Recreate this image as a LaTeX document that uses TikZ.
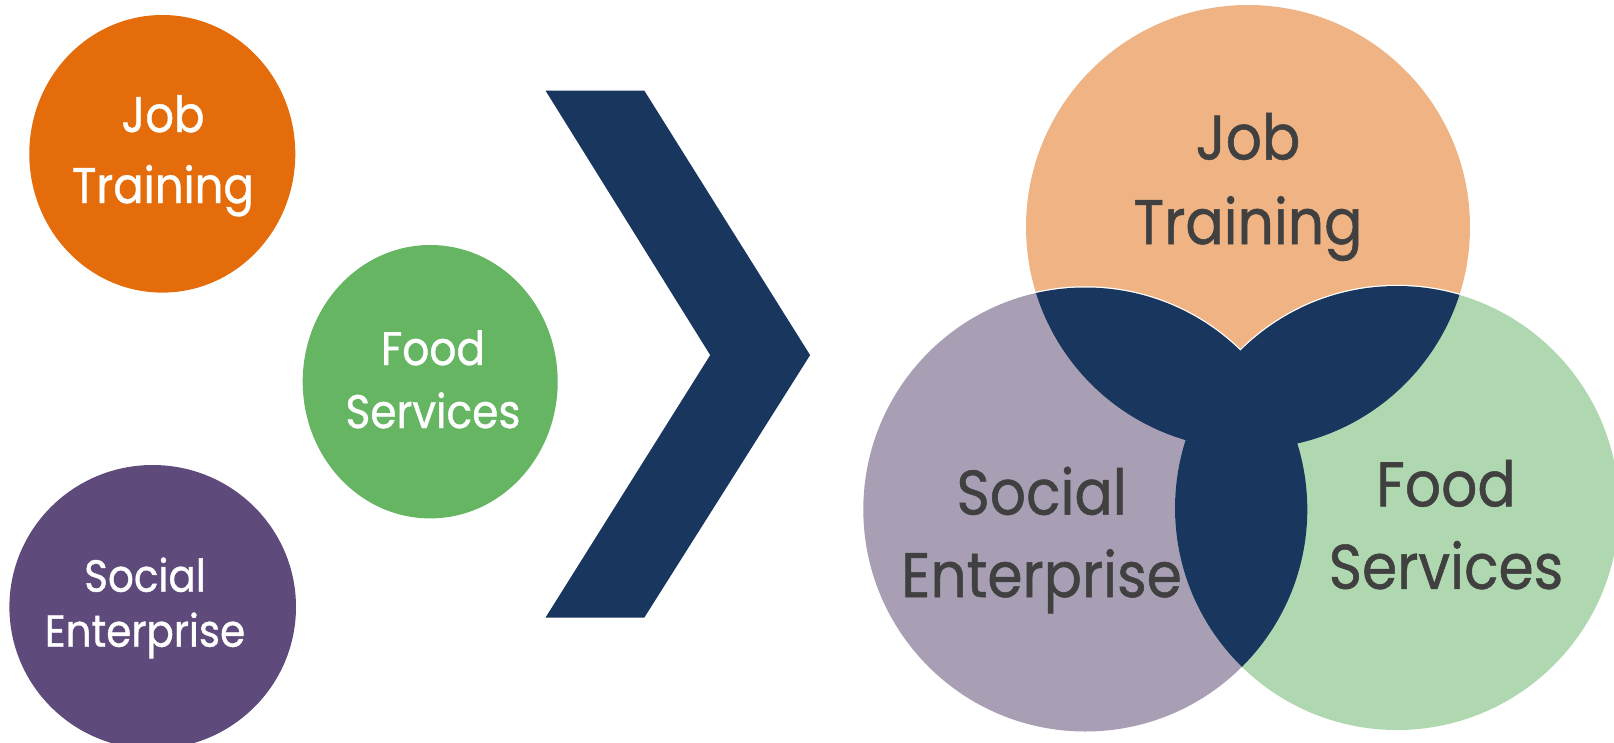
\documentclass[tikz,border=0pt]{standalone}
\usepackage{fontspec}
\setmainfont{Poppins}[FakeStretch=0.9, FakeBold=0.8]
\usetikzlibrary{shapes.geometric}
\definecolor{orgS}{HTML}{E46C0A}
\definecolor{grnS}{HTML}{65B562}
\definecolor{purS}{HTML}{5E4A7B}
\definecolor{navy}{HTML}{19365E}
\definecolor{orgL}{HTML}{F0B484}
\definecolor{purL}{HTML}{A89FB4}
\definecolor{grnL}{HTML}{B0D8B0}
\definecolor{txt}{HTML}{404040}
\tikzset{
  blob/.style={ellipse, inner sep=0pt, draw=none},
  wlab/.style={anchor=base, inner sep=0pt, text=white},
  dlab/.style={anchor=base, inner sep=0pt, text=txt, font=\fontsize{63}{70}\selectfont},
}
\begin{document}
\begin{tikzpicture}[x=1pt,y=-1pt]
\useasboundingbox (0,0) rectangle (1614,742);
% small circles
\node[blob, fill=orgS, minimum width=266pt, minimum height=277.6pt] (jobS) at (162.3,153.8) {};
\node[blob, fill=grnS, minimum width=255pt, minimum height=273.4pt] (foodS) at (430.2,381.7) {};
\node[blob, fill=purS, minimum width=286.6pt, minimum height=284pt] (socS) at (152.7,607) {};
\node[wlab, font=\fontsize{50}{60}\selectfont] (jobS1) at (163,132) {Job};
\node[wlab, font=\fontsize{50}{60}\selectfont] (jobS2) at (163,203) {Training};
\node[wlab, font=\fontsize{47}{56}\selectfont] (foodS1) at (433,365) {Food};
\node[wlab, font=\fontsize{47}{56}\selectfont] (foodS2) at (433,428) {Services};
\node[wlab, font=\fontsize{45}{54}\selectfont] (socS1) at (145,591.7) {Social};
\node[wlab, font=\fontsize{45}{54}\selectfont] (socS2) at (145,646.7) {Enterprise};
% chevron
\fill[navy] (545.5,90.6) -- (644.3,90.6) -- (810.1,355.1) -- (644.3,617.6)
  -- (545.5,617.6) -- (710.2,355.1) -- cycle;
% big circles
\coordinate (O) at (1248,227);
\coordinate (P) at (1085.3,509.5);
\coordinate (G) at (1397,508);
\def\rr{222}
\fill[orgL] (O) circle[radius=\rr];
\fill[purL] (P) circle[radius=\rr];
\fill[grnL] (G) circle[radius=\rr];
\begin{scope}
  \clip (O) circle[radius=\rr];
  \draw[white, line width=2.5pt] (P) circle[radius=\rr];
  \draw[white, line width=2.5pt] (G) circle[radius=\rr];
\end{scope}
\begin{scope}
  \clip (O) circle[radius=\rr];
  \fill[navy] (P) circle[radius=\rr];
  \fill[navy] (G) circle[radius=\rr];
\end{scope}
\begin{scope}
  \clip (P) circle[radius=\rr];
  \fill[navy] (G) circle[radius=\rr];
\end{scope}
\node[dlab] (jobL1) at (1248,159.5) {Job};
\node[dlab] (jobL2) at (1248,244) {Training};
\node[dlab] (socL1) at (1041.6,514.6) {Social};
\node[dlab] (socL2) at (1041.6,597) {Enterprise};
\node[dlab] (foodL1) at (1446,506.4) {Food};
\node[dlab] (foodL2) at (1446,588.8) {Services};
\end{tikzpicture}
\end{document}
